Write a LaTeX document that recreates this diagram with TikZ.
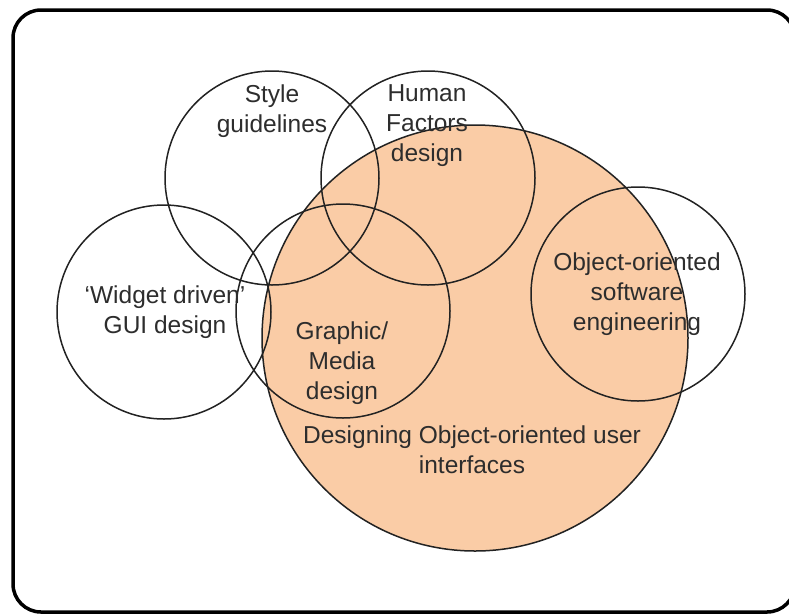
\documentclass[tikz,border=0pt]{standalone}
\usepackage{fontspec}
\setmainfont{Liberation Sans}
\definecolor{peach}{RGB}{250,204,166}
\definecolor{inkline}{RGB}{34,34,34}
\definecolor{inktext}{RGB}{45,45,45}
\begin{document}
\begin{tikzpicture}[x=1pt,y=-1pt,
  ring/.style={circle, draw=inkline, line width=1.5pt, inner sep=0pt, minimum size=214pt},
  bigring/.style={circle, draw=inkline, fill=peach, line width=1.5pt, inner sep=0pt, minimum size=426pt},
  label/.style={align=center, text=inktext, inner sep=0pt,
    font=\fontsize{24.5pt}{30pt}\selectfont}]
  \useasboundingbox (0,0) rectangle (789,614);
  \fill[white] (0,0) rectangle (789,614);
  % outer frame (its right side runs just past the page edge)
  \draw[line width=3.5pt, rounded corners=28pt] (13,10) rectangle (795,612);

  % filled main domain
  \node[bigring] (ooui) at (475,338) {};
  % overlapping domains
  \node[ring] (style)   at (272,178) {};
  \node[ring] (human)   at (428,178) {};
  \node[ring] (widget)  at (164,312) {};
  \node[ring] (graphic) at (343,311) {};
  \node[ring] (oose)    at (638,294) {};

  % labels
  \node[label] (tstyle)   at (272,111) {Style\\guidelines};
  \node[label] (thuman)   at (427,126) {Human\\Factors\\design};
  \node[label] (twidget)  at (165,312) {‘Widget driven’\\GUI design};
  \node[label] (tgraphic) at (342,363) {Graphic/\\Media\\design};
  \node[label] (toose)    at (637,294) {Object-oriented\\software\\engineering};
  \node[label] (tooui)    at (472,450) {Designing Object-oriented user\\interfaces};
\end{tikzpicture}
\end{document}
